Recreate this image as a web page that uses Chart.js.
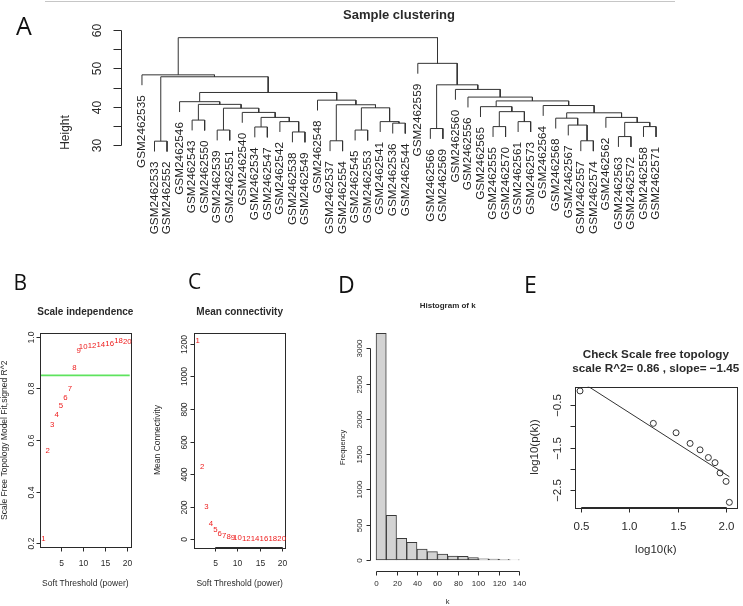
<!DOCTYPE html>
<html>
<head>
<meta charset="utf-8">
<title>Sample clustering and soft threshold</title>
<script src="https://cdn.jsdelivr.net/npm/chart.js@4.4.1/dist/chart.umd.min.js"></script>
<style>
  html, body { margin: 0; padding: 0; background: #fff; }
  #page { position: relative; width: 743px; height: 606px; overflow: hidden; background: #fff; }
  #page canvas { position: absolute; left: 0; top: 0; }
  .rule { position: absolute; left: 45px; top: 1px; width: 630px; border-top: 1px solid #c6c6c6; }
  .tag { position: absolute; font-family: "Open Sans", sans-serif; line-height: 1; color: #111; }
</style>
</head>
<body>
<div id="page">
  <div class="rule"></div>
  <canvas id="clusterChart" width="743" height="606"></canvas>
  <canvas id="fitChart" width="743" height="606"></canvas>
  <canvas id="connChart" width="743" height="606"></canvas>
  <canvas id="histChart" width="743" height="606"></canvas>
  <canvas id="freeChart" width="743" height="606"></canvas>
  <div class="tag" style="left:16px;top:12.6px;font-size:25px">A</div>
  <div class="tag" style="left:13.5px;top:272.3px;font-size:21px">B</div>
  <div class="tag" style="left:188px;top:271.3px;font-size:21px">C</div>
  <div class="tag" style="left:338px;top:273px;font-size:23px">D</div>
  <div class="tag" style="left:524px;top:273px;font-size:23px">E</div>
</div>
<script>
// ---- A: sample clustering (leaves in plotted order) ----
const sampleNames = [
  'GSM2462535', 'GSM2462533', 'GSM2462552', 'GSM2462546', 'GSM2462543', 'GSM2462550',
  'GSM2462539', 'GSM2462551', 'GSM2462540', 'GSM2462534', 'GSM2462547', 'GSM2462542',
  'GSM2462538', 'GSM2462549', 'GSM2462548', 'GSM2462537', 'GSM2462554', 'GSM2462545',
  'GSM2462553', 'GSM2462541', 'GSM2462536', 'GSM2462544', 'GSM2462559', 'GSM2462566',
  'GSM2462569', 'GSM2462560', 'GSM2462556', 'GSM2462565', 'GSM2462555', 'GSM2462570',
  'GSM2462561', 'GSM2462573', 'GSM2462564', 'GSM2462568', 'GSM2462567', 'GSM2462557',
  'GSM2462574', 'GSM2462562', 'GSM2462563', 'GSM2462572', 'GSM2462558', 'GSM2462571'
];
// hclust-style merges: negative = leaf (1-based), positive = earlier merge row
const merges = [
  [-2, -3], [-5, -6], [-7, -8], [-10, -11], [-13, -14], [-12, 5], [4, 6], [-9, 7],
  [3, 8], [2, 9], [-4, 10], [-16, -17], [-18, -19], [-21, -22], [-20, 14], [13, 15],
  [12, 16], [-15, 17], [11, 18], [1, 19], [-1, 20], [-24, -25], [-29, -30], [-31, -32],
  [23, 24], [-28, 25], [-36, -37], [-35, 27], [-34, 28], [-39, -40], [-41, -42], [30, 31],
  [-38, 32], [29, 33], [-33, 34], [26, 35], [-27, 36], [-26, 37], [22, 38], [-23, 39],
  [21, 40]
];
const mergeHeights = [
  31.0, 36.5, 33.9, 34.7, 33.4, 36.1, 37.2, 38.5,
  39.6, 40.6, 41.3, 31.1, 33.9, 35.7, 36.1, 39.7,
  40.5, 41.7, 43.7, 47.8, 48.3, 34.3, 34.8, 36.1,
  38.7, 40.0, 31.1, 35.2, 37.0, 32.2, 34.8, 35.9,
  37.2, 38.4, 40.3, 41.5, 42.5, 44.5, 45.7, 51.3,
  58.0
];
const heightTicks = [30, 35, 40, 45, 50, 55, 60];
const heightLabels = ['30', '', '40', '', '50', '', '60'];

// ---- B, C: soft threshold scan ----
const powers = [1, 2, 3, 4, 5, 6, 7, 8, 9, 10, 12, 14, 16, 18, 20];
const scaleFitR2 = [0.216, 0.559, 0.658, 0.697, 0.733, 0.763, 0.798, 0.880, 0.946, 0.961, 0.965, 0.970, 0.973, 0.982, 0.978];
const meanConnectivity = [1218, 442, 198, 98, 57, 34, 21, 14, 10, 7, 4, 2.5, 1.6, 1.1, 0.8];
const r2Cutoff = 0.85;
const powerTicks = [5, 10, 15, 20];
const r2Ticks = [0.2, 0.4, 0.6, 0.8, 1.0];
const r2Labels = ['0.2', '0.4', '0.6', '0.8', '1.0'];
const connTicks = [0, 200, 400, 600, 800, 1000, 1200];

// ---- D: histogram of connectivity k ----
const kBinMids = [5, 15, 25, 35, 45, 55, 65, 75, 85, 95, 105, 115, 125, 135];
const kCounts = [3213, 633, 307, 250, 154, 120, 84, 57, 52, 33, 18, 15, 10, 3];
const kTicks = [0, 20, 40, 60, 80, 100, 120, 140];
const freqTicks = [0, 500, 1000, 1500, 2000, 2500, 3000];

// ---- E: scale free topology check ----
const logK = [0.49, 1.248, 1.483, 1.628, 1.731, 1.817, 1.886, 1.938, 2.0, 2.034];
const logPk = [-0.17, -0.93, -1.15, -1.40, -1.55, -1.73, -1.85, -2.09, -2.29, -2.78];
const fitIntercept = 0.77;
const fitSlope = -1.45;
const logKTicks = [0.5, 1.0, 1.5, 2.0];
const logKLabels = ['0.5', '1.0', '1.5', '2.0'];
const logPkTicks = [-0.5, -1.0, -1.5, -2.0, -2.5];
const logPkLabels = ['\u22120.5', '', '\u22121.5', '', '\u22122.5'];

const W = 743, H = 606;
const FONT = '"Liberation Sans", Arial, sans-serif';
const INK = '#2a2a2a';
const CUTOFF_GREEN = '#5ee35e';
const LABEL_RED = '#ee1c1c';

function vText(ctx, text, x, y, align) {
  ctx.save();
  ctx.translate(x, y);
  ctx.rotate(-Math.PI / 2);
  ctx.textAlign = align || 'center';
  ctx.fillText(text, 0, 0);
  ctx.restore();
}

// base-R look: detached axes, box, main title and axis titles
const rStyle = {
  id: 'rStyle',
  afterDatasetsDraw(chart, args, o) {
    if (!o || !(o.title || o.xAxis || o.yAxis)) return;
    const { ctx, chartArea: a } = chart;
    const sx = chart.scales.x, sy = chart.scales.y;
    const px = v => Math.round(v) + 0.5;
    const seg = (x1, y1, x2, y2) => { ctx.beginPath(); ctx.moveTo(x1, y1); ctx.lineTo(x2, y2); ctx.stroke(); };
    ctx.save();
    ctx.lineWidth = 1;
    ctx.textBaseline = 'middle';
    ctx.strokeStyle = INK;
    ctx.fillStyle = INK;
    if (o.box) {
      ctx.strokeRect(px(a.left), px(a.top), Math.round(a.right - a.left), Math.round(a.bottom - a.top));
    }
    if (o.xAxis) {
      const ax = o.xAxis, y0 = px(a.bottom);
      const xs = ax.ticks.map(v => px(sx.getPixelForValue(v)));
      seg(xs[0], y0, xs[xs.length - 1], y0);
      xs.forEach(x => seg(x, y0, x, y0 + ax.len));
      ctx.font = ax.size + 'px ' + FONT;
      ctx.textAlign = 'center';
      ax.labels.forEach((lab, i) => { if (lab) ctx.fillText(lab, xs[i], a.bottom + ax.gap); });
    }
    if (o.yAxis) {
      const ax = o.yAxis, x0 = px(a.left);
      const ys = ax.ticks.map(v => px(sy.getPixelForValue(v)));
      seg(x0, ys[0], x0, ys[ys.length - 1]);
      ys.forEach(y => seg(x0, y, x0 - ax.len, y));
      ctx.font = ax.size + 'px ' + FONT;
      ax.labels.forEach((lab, i) => { if (lab) vText(ctx, lab, a.left - ax.gap, ys[i]); });
    }
    const cx = (a.left + a.right) / 2;
    if (o.title) {
      ctx.font = 'bold ' + o.titleSize + 'px ' + FONT;
      ctx.textAlign = 'center';
      o.title.forEach((t, i) => ctx.fillText(t, cx, a.top - o.titleGap + i * (o.titleStep || 0)));
    }
    if (o.xlab) {
      ctx.font = o.labSize + 'px ' + FONT;
      ctx.textAlign = 'center';
      ctx.fillText(o.xlab, cx, a.bottom + o.xlabGap);
    }
    if (o.ylab) {
      ctx.font = o.labSize + 'px ' + FONT;
      vText(ctx, o.ylab, a.left - o.ylabGap, o.ylabY || (a.top + a.bottom) / 2);
    }
    ctx.restore();
  }
};

// numbers drawn in place of points (B, C)
const pointText = {
  id: 'pointText',
  afterDatasetsDraw(chart, args, o) {
    if (!o || !o.size) return;
    const { ctx } = chart;
    ctx.save();
    ctx.font = o.size + 'px ' + FONT;
    ctx.fillStyle = LABEL_RED;
    ctx.textAlign = 'center';
    ctx.textBaseline = 'middle';
    chart.getDatasetMeta(0).data.forEach((pt, i) => ctx.fillText(String(powers[i]), pt.x, pt.y));
    ctx.restore();
  }
};

Chart.register(rStyle, pointText);

function frame(box, xr, yr, rs, extra) {
  return {
    responsive: false,
    animation: false,
    events: [],
    layout: { padding: { left: box[0], top: box[1], right: W - box[2], bottom: H - box[3] } },
    scales: {
      x: { type: 'linear', display: false, offset: false, min: xr[0], max: xr[1] },
      y: { type: 'linear', display: false, min: yr[0], max: yr[1] }
    },
    plugins: Object.assign({ legend: { display: false }, tooltip: { enabled: false }, rStyle: rs }, extra || {})
  };
}

// ---------- A ----------
const hang = 0.1 * (Math.max(...mergeHeights) - Math.min(...mergeHeights));
const nodeX = [], leafEnd = [], treeSets = [];
merges.forEach((pair, i) => {
  const h = mergeHeights[i];
  const ends = pair.map(c => {
    if (c < 0) {
      leafEnd[-c - 1] = h - hang;
      return { x: -c, y: h - hang };
    }
    return { x: nodeX[c - 1], y: mergeHeights[c - 1] };
  });
  nodeX[i] = (ends[0].x + ends[1].x) / 2;
  treeSets.push({
    data: [ends[0], { x: ends[0].x, y: h }, { x: ends[1].x, y: h }, ends[1]],
    showLine: true, borderColor: '#333', borderWidth: 1, pointRadius: 0, tension: 0, clip: false
  });
});

const leafLabels = {
  id: 'leafLabels',
  afterDatasetsDraw(chart) {
    const { ctx } = chart;
    const sx = chart.scales.x, sy = chart.scales.y;
    ctx.save();
    ctx.font = '11.8px ' + FONT;
    ctx.fillStyle = '#222';
    ctx.textBaseline = 'middle';
    sampleNames.forEach((name, i) => {
      vText(ctx, name, sx.getPixelForValue(i + 1), sy.getPixelForValue(leafEnd[i]) + 10, 'right');
    });
    ctx.restore();
  }
};

new Chart(document.getElementById('clusterChart'), {
  type: 'scatter',
  data: { datasets: treeSets },
  options: frame([121.4, 30, 676.6, 156.5], [-0.64, 43.64], [27, 60], {
    yAxis: { ticks: heightTicks, labels: heightLabels, len: 8, gap: 23.4, size: 12 },
    title: ['Sample clustering'], titleSize: 13, titleGap: 14.3,
    ylab: 'Height', ylabGap: 56, ylabY: 132.5, labSize: 12
  }),
  plugins: [leafLabels]
});

// ---------- B ----------
// abline(h = 0.85) across the plot region
const cutoffLine = {
  id: 'cutoffLine',
  beforeDatasetsDraw(chart) {
    const { ctx, chartArea: a } = chart;
    const y = chart.scales.y.getPixelForValue(r2Cutoff);
    ctx.save();
    ctx.strokeStyle = CUTOFF_GREEN;
    ctx.lineWidth = 1.8;
    ctx.beginPath();
    ctx.moveTo(a.left + 1, y);
    ctx.lineTo(a.right - 1, y);
    ctx.stroke();
    ctx.restore();
  }
};

new Chart(document.getElementById('fitChart'), {
  type: 'scatter',
  data: { datasets: [{ data: powers.map((p, i) => ({ x: p, y: scaleFitR2[i] })), pointRadius: 0 }] },
  options: frame([40, 333.3, 130.7, 547.3], [0.24, 20.76], [0.185, 1.013], {
    box: true,
    xAxis: { ticks: powerTicks, labels: powerTicks.map(String), len: 4, gap: 16, size: 8.5 },
    yAxis: { ticks: r2Ticks, labels: r2Labels, len: 4, gap: 8.5, size: 8.5 },
    title: ['Scale independence'], titleSize: 10, titleGap: 21,
    xlab: 'Soft Threshold (power)', xlabGap: 36,
    ylab: 'Scale Free Topology Model Fit,signed R^2', ylabGap: 35, labSize: 8.5
  }, { pointText: { size: 7.8 } }),
  plugins: [cutoffLine]
});

// ---------- C ----------
new Chart(document.getElementById('connChart'), {
  type: 'scatter',
  data: { datasets: [{ data: powers.map((p, i) => ({ x: p, y: meanConnectivity[i] })), pointRadius: 0 }] },
  options: frame([194.3, 332.7, 285, 547.3], [0.24, 20.76], [-48.5, 1268], {
    box: true,
    xAxis: { ticks: powerTicks, labels: powerTicks.map(String), len: 4, gap: 16.7, size: 8.5 },
    yAxis: { ticks: connTicks, labels: connTicks.map(String), len: 4, gap: 10, size: 8.5 },
    title: ['Mean connectivity'], titleSize: 10, titleGap: 20.4,
    xlab: 'Soft Threshold (power)', xlabGap: 36.7,
    ylab: 'Mean Connectivity', ylabGap: 36.3, labSize: 8.5
  }, { pointText: { size: 7.8 } })
});

// ---------- D ----------
new Chart(document.getElementById('histChart'), {
  type: 'bar',
  data: {
    datasets: [{
      data: kBinMids.map((k, i) => ({ x: k, y: kCounts[i] })),
      backgroundColor: '#d3d3d3', borderColor: '#3a3a3a', borderWidth: 1,
      borderSkipped: false, barPercentage: 1, categoryPercentage: 1
    }]
  },
  options: frame([370.3, 324.2, 525.1, 570.6], [-5.6, 145.6], [-150, 3342], {
    xAxis: { ticks: kTicks, labels: kTicks.map(String), len: 4, gap: 12.7, size: 8 },
    yAxis: { ticks: freqTicks, labels: freqTicks.map(String), len: 4, gap: 11, size: 8 },
    title: ['Histogram of k'], titleSize: 8, titleGap: 18.2,
    xlab: 'k', xlabGap: 31,
    ylab: 'Frequency', ylabGap: 27.3, labSize: 7.5
  })
});

// ---------- E ----------
const fitEnds = [Math.min(...logK), Math.max(...logK)].map(x => ({ x: x, y: fitIntercept + fitSlope * x }));
new Chart(document.getElementById('freeChart'), {
  type: 'scatter',
  data: {
    datasets: [
      { data: logK.map((x, i) => ({ x: x, y: logPk[i] })), pointRadius: 3, pointBorderWidth: 1,
        pointBorderColor: '#333', pointBackgroundColor: 'rgba(0,0,0,0)' },
      { data: fitEnds, showLine: true, borderColor: '#333', borderWidth: 1, pointRadius: 0 }
    ]
  },
  options: frame([575, 386.7, 736.7, 507.3], [0.438, 2.11], [-2.896, -0.071], {
    box: true,
    xAxis: { ticks: logKTicks, labels: logKLabels, len: 5, gap: 19.4, size: 11.5 },
    yAxis: { ticks: logPkTicks, labels: logPkLabels, len: 5, gap: 16.7, size: 11.5 },
    title: ['Check Scale free topology', 'scale R^2= 0.86 , slope= \u22121.45'],
    titleSize: 11.7, titleGap: 31.7, titleStep: 14,
    xlab: 'log10(k)', xlabGap: 42.7,
    ylab: 'log10(p(k))', ylabGap: 40, labSize: 11.5
  })
});
</script>
</body>
</html>
